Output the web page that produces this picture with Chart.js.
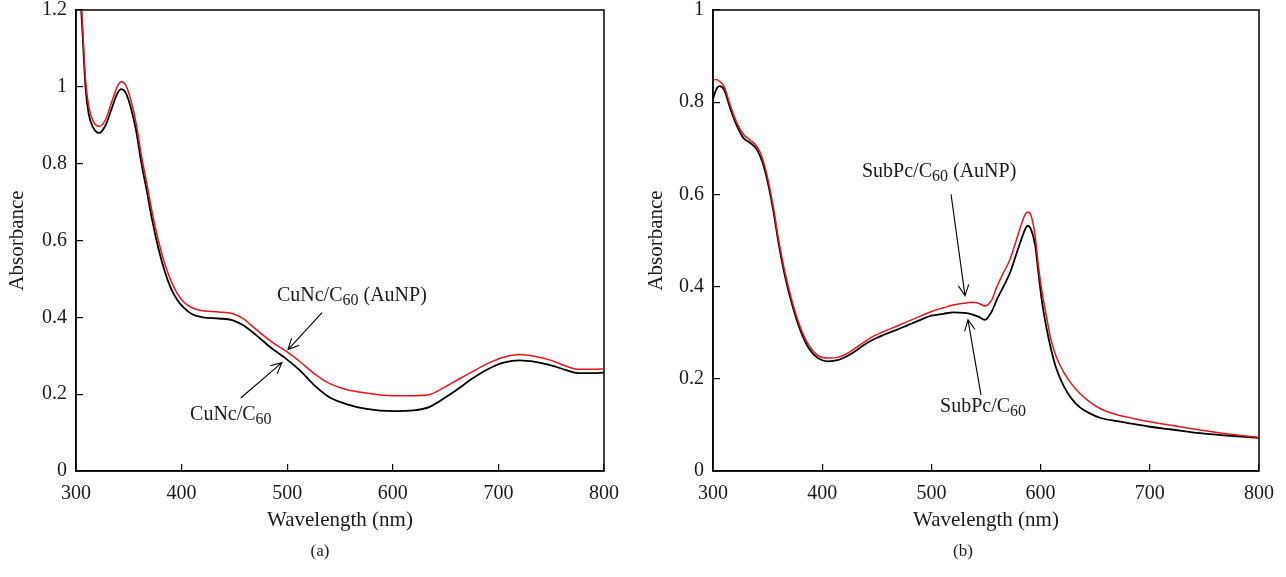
<!DOCTYPE html>
<html>
<head>
<meta charset="utf-8">
<script src="https://cdn.jsdelivr.net/npm/chart.js@4"></script>
<style>
  html, body { margin: 0; padding: 0; background: #fff; }
  canvas { position: absolute; top: 0; }
  #chartA { left: 0; }
  #chartB { left: 640px; }
</style>
</head>
<body>
<canvas id="chartA" width="640" height="577"></canvas>
<canvas id="chartB" width="646" height="577"></canvas>

<script>
// (a) CuNc/C60
const wavelengthsA = [300, 303, 306, 309, 312, 316, 322, 328, 334, 339, 343, 347, 352, 357, 362, 367, 372, 378, 384, 390,
  396, 402, 410, 420, 435, 448, 458, 470, 485, 500, 512, 525, 540, 555, 575, 600, 620, 635, 645, 660,
  675, 690, 705, 720, 735, 750, 765, 775, 790, 800];
const cuncC60 = [1.50, 1.30, 1.15, 1.00, 0.93, 0.895, 0.880, 0.900, 0.945, 0.982, 0.994, 0.985, 0.945, 0.885, 0.80, 0.73, 0.655, 0.58, 0.52, 0.475,
  0.445, 0.425, 0.408, 0.400, 0.397, 0.393, 0.380, 0.355, 0.320, 0.290, 0.262, 0.225, 0.192, 0.175, 0.162, 0.156, 0.158, 0.167, 0.183, 0.210,
  0.240, 0.265, 0.282, 0.288, 0.284, 0.275, 0.262, 0.255, 0.255, 0.256];
const cuncC60AuNP = [1.52, 1.32, 1.17, 1.02, 0.95, 0.912, 0.897, 0.915, 0.962, 1.000, 1.013, 1.005, 0.965, 0.905, 0.82, 0.75, 0.675, 0.60, 0.54, 0.495,
  0.462, 0.440, 0.425, 0.417, 0.414, 0.410, 0.397, 0.370, 0.337, 0.310, 0.285, 0.255, 0.228, 0.213, 0.203, 0.196, 0.196, 0.199, 0.212, 0.235,
  0.258, 0.280, 0.296, 0.303, 0.298, 0.288, 0.272, 0.265, 0.265, 0.266];

// (b) SubPc/C60
const wavelengthsB = [300, 303, 306, 310, 316, 322, 328, 334, 340, 345, 350, 355, 360, 366, 372, 380, 388, 396, 405, 415,
  425, 435, 445, 456, 467, 478, 490, 500, 511, 520, 530, 537, 543, 549, 555, 560, 566, 572, 577, 582,
  586, 588, 591, 595, 598, 601, 605, 609, 614, 621, 628, 636, 645, 655, 670, 685, 700, 720, 746, 770, 800];
const subpcC60 = [0.807, 0.828, 0.835, 0.828, 0.785, 0.748, 0.722, 0.712, 0.698, 0.672, 0.628, 0.568, 0.495, 0.422, 0.365, 0.305, 0.265, 0.245, 0.238, 0.241,
  0.252, 0.268, 0.283, 0.295, 0.305, 0.316, 0.328, 0.337, 0.341, 0.344, 0.343, 0.340, 0.335, 0.328, 0.345, 0.372, 0.400, 0.430, 0.465, 0.500,
  0.525, 0.532, 0.525, 0.490, 0.430, 0.372, 0.315, 0.270, 0.225, 0.185, 0.158, 0.138, 0.125, 0.115, 0.108, 0.102, 0.096, 0.090, 0.082, 0.077, 0.072];
const subpcC60AuNP = [0.848, 0.849, 0.845, 0.835, 0.792, 0.755, 0.730, 0.718, 0.705, 0.680, 0.636, 0.576, 0.503, 0.430, 0.372, 0.312, 0.272, 0.251, 0.245, 0.247,
  0.258, 0.274, 0.290, 0.302, 0.313, 0.324, 0.336, 0.346, 0.354, 0.360, 0.364, 0.366, 0.364, 0.358, 0.370, 0.400, 0.430, 0.459, 0.495, 0.532,
  0.557, 0.562, 0.556, 0.510, 0.445, 0.393, 0.340, 0.290, 0.250, 0.215, 0.190, 0.168, 0.150, 0.135, 0.122, 0.114, 0.107, 0.099, 0.089, 0.081, 0.073];

const xTicks = [300, 400, 500, 600, 700, 800];
const yTicksA = [0, 0.2, 0.4, 0.6, 0.8, 1, 1.2];
const yTicksB = [0, 0.2, 0.4, 0.6, 0.8, 1];

const SERIF = '"Liberation Serif", "DejaVu Serif", serif';
Chart.defaults.font.family = SERIF;
Chart.defaults.color = '#1a1a1a';

function pts(xs, ys) {
  return xs.map((x, i) => ({ x: x, y: ys[i] }));
}

function drawArrow(ctx, x1, y1, x2, y2) {
  const ang = Math.atan2(y2 - y1, x2 - x1);
  const head = 12, spread = 0.45;
  ctx.beginPath();
  ctx.moveTo(x1, y1);
  ctx.lineTo(x2, y2);
  ctx.moveTo(x2 - head * Math.cos(ang - spread), y2 - head * Math.sin(ang - spread));
  ctx.lineTo(x2, y2);
  ctx.lineTo(x2 - head * Math.cos(ang + spread), y2 - head * Math.sin(ang + spread));
  ctx.stroke();
}

// labels + arrows, placed in data units
const notesPlugin = {
  id: 'notes',
  afterDraw(chart, args, opts) {
    const ctx = chart.ctx, sx = chart.scales.x, sy = chart.scales.y;
    ctx.save();
    ctx.strokeStyle = '#000';
    ctx.fillStyle = '#1a1a1a';
    ctx.lineWidth = 1.1;
    (opts.arrows || []).forEach(a => {
      drawArrow(ctx, sx.getPixelForValue(a.from[0]), sy.getPixelForValue(a.from[1]),
        sx.getPixelForValue(a.to[0]), sy.getPixelForValue(a.to[1]));
    });
    ctx.textBaseline = 'middle';
    ctx.textAlign = 'left';
    (opts.labels || []).forEach(l => {
      let x = sx.getPixelForValue(l.x);
      const y = sy.getPixelForValue(l.y);
      l.parts.forEach(p => {
        ctx.font = (p[1] ? '16px ' : '20px ') + SERIF;
        ctx.fillText(p[0], x, p[1] ? y + 5 : y);
        x += ctx.measureText(p[0]).width;
      });
    });
    if (opts.caption) {
      ctx.font = '17px ' + SERIF;
      ctx.textAlign = 'center';
      ctx.fillText(opts.caption.text, opts.caption.x, opts.caption.y);
    }
    ctx.restore();
  }
};

// full box around the plot
const framePlugin = {
  id: 'frame',
  beforeDatasetsDraw(chart) {
    const a = chart.chartArea, ctx = chart.ctx;
    ctx.save();
    ctx.strokeStyle = '#000';
    ctx.lineWidth = 1.5;
    ctx.strokeRect(a.left, a.top, a.right - a.left, a.bottom - a.top);
    ctx.restore();
  }
};

function makeChart(id, o) {
  return new Chart(document.getElementById(id), {
    type: 'line',
    data: {
      datasets: [
        { label: o.names[1], data: pts(o.xs, o.red), borderColor: '#e8141c', borderWidth: 1.5, order: 0 },
        { label: o.names[0], data: pts(o.xs, o.black), borderColor: '#000', borderWidth: 1.8, order: 1 }
      ]
    },
    options: {
      responsive: false,
      animation: false,
      parsing: false,
      elements: { point: { radius: 0 }, line: { cubicInterpolationMode: 'monotone' } },
      layout: { padding: { left: 0, right: o.padRight, top: 10, bottom: 44 } },
      scales: {
        x: {
          type: 'linear', min: 300, max: 800,
          afterBuildTicks: s => { s.ticks = xTicks.map(v => ({ value: v })); },
          afterFit: s => { s.height = 62; s.paddingLeft = 0; s.paddingRight = 0; },
          grid: { drawOnChartArea: false, tickLength: -7, color: '#000', lineWidth: 1.2 },
          border: { color: '#000', width: 1.5 },
          ticks: { padding: 20, font: { size: 20, lineHeight: 1 }, color: '#1a1a1a', maxRotation: 0 },
          title: { display: true, text: 'Wavelength (nm)', font: { size: 21, lineHeight: 1.2 }, padding: 0, color: '#1a1a1a' }
        },
        y: {
          type: 'linear', min: 0, max: o.ymax,
          afterBuildTicks: s => { s.ticks = o.yTicks.map(v => ({ value: v })); },
          afterFit: s => { s.width = o.yWidth; s.paddingTop = 0; s.paddingBottom = 0; },
          grid: { drawOnChartArea: false, tickLength: -7, color: '#000', lineWidth: 1.2 },
          border: { color: '#000', width: 1.5 },
          ticks: {
            padding: 16, font: { size: 20, lineHeight: 1 }, color: '#1a1a1a',
            callback: v => String(Math.round(v * 10) / 10)
          },
          title: { display: true, text: 'Absorbance', font: { size: 21, lineHeight: 1.2 }, padding: { top: o.yTitlePad, bottom: 0 }, color: '#1a1a1a' }
        }
      },
      plugins: {
        legend: { display: false },
        tooltip: { enabled: false },
        notes: { labels: o.labels, arrows: o.arrows, caption: o.caption }
      }
    },
    plugins: [framePlugin, notesPlugin]
  });
}

makeChart('chartA', {
  names: ['CuNc/C60', 'CuNc/C60 (AuNP)'],
  xs: wavelengthsA, black: cuncC60, red: cuncC60AuNP,
  ymax: 1.2, yTicks: yTicksA, yWidth: 76, yTitlePad: 5, padRight: 36,
  labels: [
    { x: 490.3, y: 0.457, parts: [['CuNc/C', false], ['60', true], [' (AuNP)', false]] },
    { x: 408, y: 0.146, parts: [['CuNc/C', false], ['60', true]] }
  ],
  arrows: [
    { from: [533, 0.412], to: [500.8, 0.316] },
    { from: [456, 0.19], to: [495, 0.282] }
  ],
  caption: { text: '(a)', x: 320, y: 552 }
});

makeChart('chartB', {
  names: ['SubPc/C60', 'SubPc/C60 (AuNP)'],
  xs: wavelengthsB, black: subpcC60, red: subpcC60AuNP,
  ymax: 1, yTicks: yTicksB, yWidth: 73, yTitlePad: 4, padRight: 27,
  labels: [
    { x: 436.4, y: 0.65, parts: [['SubPc/C', false], ['60', true], [' (AuNP)', false]] },
    { x: 507.9, y: 0.139, parts: [['SubPc/C', false], ['60', true]] }
  ],
  arrows: [
    { from: [518, 0.6], to: [530.8, 0.38] },
    { from: [545.4, 0.165], to: [533.5, 0.328] }
  ],
  caption: { text: '(b)', x: 323, y: 552 }
});
</script>
</body>
</html>
